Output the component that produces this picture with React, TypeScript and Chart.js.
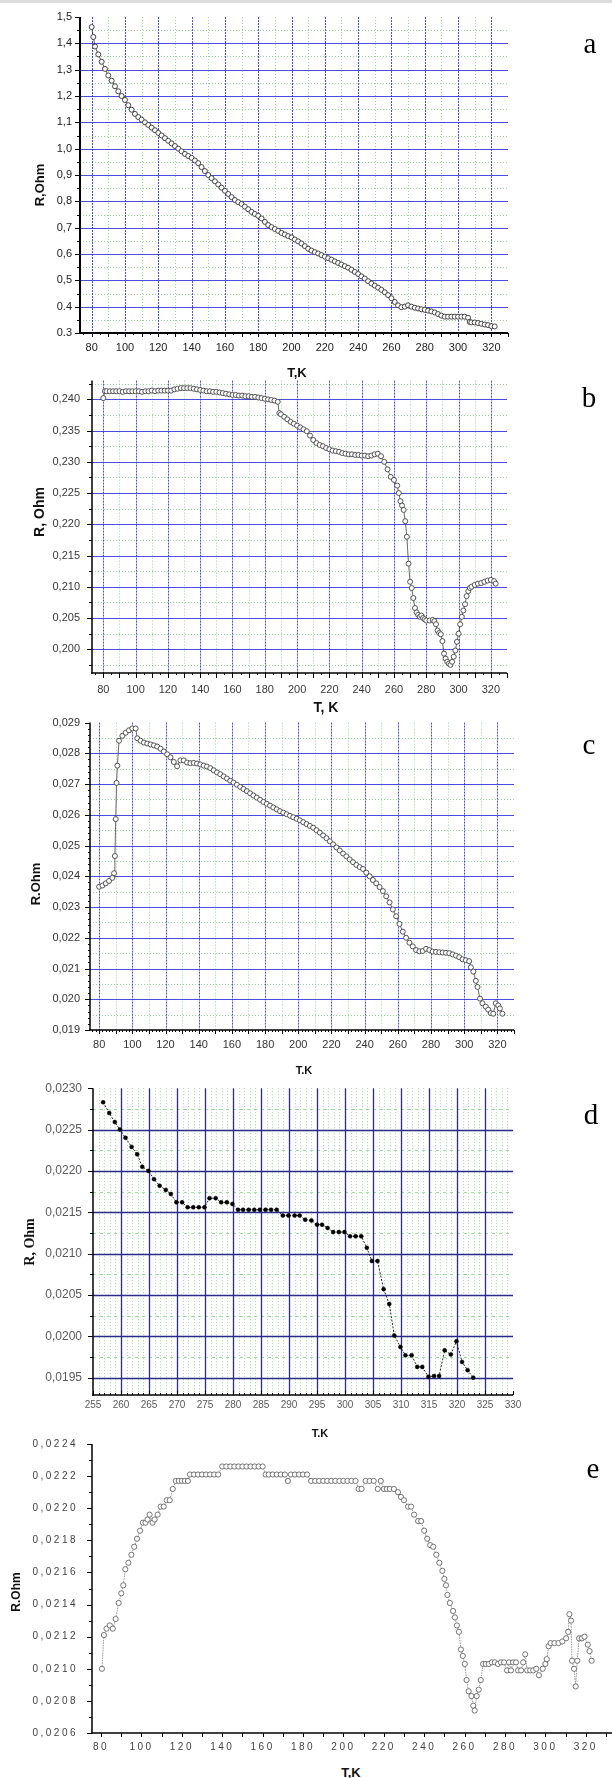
import React, { useEffect, useRef } from "react";
import { Chart, registerables } from "chart.js";
Chart.register(...registerables);

// ---------------- DATA ----------------
// Panel a
const TEMP_A = [
  80, 81, 82, 84, 86, 88, 90, 92, 94, 96,
  98, 100, 102, 104, 106, 108, 110, 112, 114, 116,
  118, 120, 122, 124, 126, 128, 130, 132, 134, 136,
  138, 140, 142, 144, 146, 148, 150, 152, 154, 156,
  158, 160, 162, 164, 166, 168, 170, 172, 174, 176,
  178, 180, 182, 184, 186, 188, 190, 192, 194, 196,
  198, 200, 202, 204, 206, 208, 210, 212, 214, 216,
  218, 220, 222, 224, 226, 228, 230, 232, 234, 236,
  238, 240, 242, 244, 246, 248, 250, 252, 254, 256,
  258, 260, 262, 264, 266, 268, 270, 272, 274, 276,
  278, 280, 282, 284, 286, 288, 290, 292, 294, 296,
  298, 300, 302, 304, 306, 307, 308, 310, 312, 314,
  316, 318, 320, 322,
];
const R_A = [
  1.462, 1.424, 1.388, 1.358, 1.330, 1.303, 1.278, 1.258, 1.237, 1.218,
  1.200, 1.185, 1.165, 1.148, 1.132, 1.120, 1.110, 1.100, 1.090, 1.080,
  1.070, 1.060, 1.050, 1.040, 1.030, 1.020, 1.010, 1.000, 0.990, 0.980,
  0.972, 0.965, 0.955, 0.945, 0.930, 0.915, 0.900, 0.888, 0.876, 0.864,
  0.852, 0.840, 0.828, 0.816, 0.805, 0.797, 0.790, 0.780, 0.770, 0.760,
  0.752, 0.745, 0.735, 0.722, 0.710, 0.702, 0.695, 0.688, 0.680, 0.674,
  0.668, 0.663, 0.655, 0.648, 0.640, 0.630, 0.620, 0.613, 0.607, 0.602,
  0.596, 0.590, 0.584, 0.578, 0.572, 0.566, 0.560, 0.554, 0.548, 0.540,
  0.532, 0.524, 0.515, 0.507, 0.497, 0.488, 0.480, 0.472, 0.464, 0.455,
  0.444, 0.432, 0.418, 0.405, 0.398, 0.400, 0.405, 0.400, 0.396, 0.393,
  0.390, 0.388, 0.385, 0.382, 0.378, 0.372, 0.366, 0.362, 0.362, 0.362,
  0.362, 0.362, 0.362, 0.362, 0.358, 0.342, 0.340, 0.340, 0.338, 0.335,
  0.332, 0.330, 0.326, 0.325,
];

// Panel b
const TEMP_B = [
  80, 81, 82, 84, 86, 88, 90, 92, 94, 96,
  98, 100, 102, 104, 106, 108, 110, 112, 114, 116,
  118, 120, 122, 124, 126, 128, 130, 132, 134, 136,
  138, 140, 142, 144, 146, 148, 150, 152, 154, 156,
  158, 160, 162, 164, 166, 168, 170, 172, 174, 176,
  178, 180, 182, 184, 186, 188, 189, 190, 192, 194,
  196, 198, 200, 202, 204, 206, 208, 210, 212, 214,
  216, 218, 220, 222, 224, 226, 228, 230, 232, 234,
  236, 238, 240, 242, 244, 246, 248, 250, 252, 254,
  256, 258, 260, 262, 263, 264, 265, 266, 267, 268,
  269, 270, 271, 272, 273, 274, 275, 276, 277, 278,
  279, 280, 282, 284, 285, 286, 287, 288, 289, 290,
  291, 292, 293, 294, 295, 296, 297, 298, 299, 300,
  301, 302, 303, 304, 305, 306, 307, 308, 310, 312,
  314, 316, 318, 320, 322, 323,
];
const R_B = [
  0.2402, 0.2413, 0.2413, 0.2413, 0.2413, 0.2413, 0.2413, 0.2412, 0.2413, 0.2413,
  0.2413, 0.2413, 0.2413, 0.2412, 0.2413, 0.2413, 0.2414, 0.2413, 0.2414, 0.2414,
  0.2414, 0.2414, 0.2414, 0.2416, 0.2417, 0.2418, 0.2418, 0.2418, 0.2418, 0.2417,
  0.2416, 0.2415, 0.2414, 0.2413, 0.2413, 0.2412, 0.2412, 0.2411, 0.2410, 0.2409,
  0.2408, 0.2407, 0.2407, 0.2406, 0.2406, 0.2405, 0.2405, 0.2404, 0.2404, 0.2403,
  0.2402, 0.2401, 0.2400, 0.2399, 0.2398, 0.2396, 0.2378, 0.2376, 0.2372, 0.2368,
  0.2364, 0.2361, 0.2358, 0.2355, 0.2352, 0.2349, 0.2342, 0.2335, 0.2330, 0.2327,
  0.2325, 0.2322, 0.2320, 0.2318, 0.2317, 0.2316, 0.2314, 0.2313, 0.2312, 0.2312,
  0.2311, 0.2311, 0.2310, 0.2310, 0.2309, 0.2310, 0.2312, 0.2313, 0.2309, 0.2300,
  0.2288, 0.2276, 0.2271, 0.2262, 0.2250, 0.2237, 0.2230, 0.2223, 0.2205, 0.2180,
  0.2137, 0.2108, 0.2098, 0.2082, 0.2066, 0.2059, 0.2055, 0.2052, 0.2054, 0.2050,
  0.2048, 0.2046, 0.2046, 0.2047, 0.2045, 0.2040, 0.2030, 0.2026, 0.2024, 0.2013,
  0.1993, 0.1985, 0.1980, 0.1977, 0.1975, 0.1980, 0.1988, 0.1998, 0.2012, 0.2025,
  0.2040, 0.2052, 0.2062, 0.2072, 0.2085, 0.2093, 0.2098, 0.2100, 0.2103, 0.2105,
  0.2106, 0.2108, 0.2110, 0.2111, 0.2109, 0.2105,
];

// Panel c
const TEMP_C = [
  80, 82, 84, 86, 88, 89, 89.5, 90, 90.5, 91,
  92, 94, 96, 98, 100, 102, 103, 105, 107, 109,
  111, 113, 115, 117, 119, 121, 123, 125, 127, 129,
  131, 133, 135, 137, 139, 141, 143, 145, 147, 149,
  151, 153, 155, 157, 159, 161, 163, 165, 167, 169,
  171, 173, 175, 177, 179, 181, 183, 185, 187, 189,
  191, 193, 195, 197, 199, 201, 203, 205, 207, 209,
  211, 213, 215, 217, 219, 221, 223, 225, 227, 229,
  231, 233, 235, 237, 239, 241, 243, 245, 247, 249,
  251, 253, 255, 257, 259, 261, 263, 265, 267, 269,
  271, 273, 275, 277, 279, 281, 283, 285, 287, 289,
  291, 293, 295, 297, 299, 301, 303, 304, 305.5, 307,
  308, 309.5, 311, 313, 314.5, 316, 317.5, 319, 320.5, 321.5,
  323,
];
const R_C = [
  0.02366, 0.02370, 0.02377, 0.02385, 0.02395, 0.02410, 0.02466, 0.02586, 0.02704, 0.02760,
  0.02841, 0.02857, 0.02867, 0.02875, 0.02881, 0.02881, 0.02849, 0.02841, 0.02835, 0.02832,
  0.02829, 0.02826, 0.02822, 0.02815, 0.02806, 0.02797, 0.02787, 0.02772, 0.02758, 0.02777,
  0.02777, 0.02770, 0.02768, 0.02769, 0.02767, 0.02764, 0.02760, 0.02757, 0.02752, 0.02745,
  0.02738, 0.02732, 0.02725, 0.02718, 0.02711, 0.02705, 0.02698, 0.02691, 0.02684, 0.02677,
  0.02670, 0.02663, 0.02656, 0.02649, 0.02642, 0.02636, 0.02630, 0.02624, 0.02618, 0.02612,
  0.02607, 0.02602, 0.02597, 0.02592, 0.02587, 0.02582, 0.02576, 0.02570, 0.02564, 0.02558,
  0.02550, 0.02542, 0.02533, 0.02524, 0.02514, 0.02504, 0.02494, 0.02484, 0.02474, 0.02465,
  0.02455, 0.02446, 0.02437, 0.02430, 0.02424, 0.02412, 0.02400, 0.02388, 0.02377, 0.02365,
  0.02352, 0.02335, 0.02315, 0.02292, 0.02270, 0.02245, 0.02220, 0.02200, 0.02184, 0.02172,
  0.02160, 0.02156, 0.02157, 0.02164, 0.02160, 0.02155, 0.02154, 0.02153, 0.02152, 0.02151,
  0.02150, 0.02146, 0.02142, 0.02137, 0.02130, 0.02127, 0.02124, 0.02104, 0.02090, 0.02060,
  0.02040, 0.02002, 0.01987, 0.01976, 0.01966, 0.01955, 0.01953, 0.01987, 0.01980, 0.01970,
  0.01953,
];

// Panel d
const TEMP_D = [
  256.8, 257.9, 258.9, 259.8, 260.8, 261.9, 262.9, 263.8, 264.9, 265.9,
  266.9, 268, 268.9, 269.9, 270.9, 271.9, 272.9, 273.9, 274.9, 275.8,
  276.9, 277.9, 278.9, 279.9, 280.9, 281.8, 282.8, 283.8, 284.8, 285.8,
  286.8, 287.8, 288.9, 289.9, 291, 291.9, 292.9, 294, 295, 295.9,
  296.9, 297.9, 298.9, 299.9, 300.9, 301.9, 302.9, 303.9, 304.8, 305.8,
  306.9, 307.9, 308.8, 309.9, 310.8, 311.9, 312.9, 313.8, 314.9, 315.9,
  316.8, 317.8, 318.9, 319.9, 320.9, 321.9, 322.9,
];
const R_D = [
  0.02283, 0.02270, 0.02259, 0.02250, 0.02240, 0.02229, 0.02220, 0.02205, 0.02200, 0.02190,
  0.02182, 0.02177, 0.02172, 0.02162, 0.02162, 0.02156, 0.02156, 0.02156, 0.02156, 0.02167,
  0.02167, 0.02162, 0.02162, 0.02160, 0.02153, 0.02153, 0.02153, 0.02153, 0.02153, 0.02153,
  0.02153, 0.02153, 0.02146, 0.02146, 0.02146, 0.02146, 0.02141, 0.02140, 0.02135, 0.02135,
  0.02131, 0.02126, 0.02126, 0.02126, 0.02121, 0.02121, 0.02121, 0.02107, 0.02091, 0.02091,
  0.02057, 0.02039, 0.02001, 0.01987, 0.01977, 0.01977, 0.01963, 0.01963, 0.01951, 0.01952,
  0.01952, 0.01983, 0.01978, 0.01994, 0.01969, 0.01959, 0.01950,
];

// Panel e
const TEMP_E = [
  80.4, 81.4, 82.7, 84.3, 85.8, 87.2, 88.7, 90, 91, 92,
  93.5, 95, 96.4, 97.8, 99.3, 100.7, 102, 103, 104, 105.5,
  106.5, 108, 109.5, 111, 112.5, 114, 115.5, 117, 118.5, 120,
  121.5, 123, 124, 126, 128, 130, 132, 134, 136, 138,
  140, 142, 144, 146, 148, 150, 152, 154, 156, 158,
  160, 161.5, 163, 165, 167, 169, 171, 172.5, 174, 176,
  178, 180, 182, 184, 186, 188, 190, 192, 194, 196,
  198, 200, 202, 204, 206, 207.5, 209, 211, 213, 215,
  217, 218.5, 220, 221.5, 223, 225, 227, 228.5, 230, 232,
  233.5, 235, 237, 238.5, 240, 241.5, 243, 244.5, 246, 247.5,
  249, 250, 250.8, 251.5, 252.7, 254.3, 255.2, 256.2, 257.2, 258.2,
  259.1, 260.1, 261, 262, 263.4, 264.3, 265, 266, 267, 268,
  269.2, 270.5, 272, 273.5, 275, 276.5, 278, 279.5, 281, 282,
  283, 284, 285.5, 286.5, 288, 289, 290, 291, 292.5, 294,
  295.5, 296.8, 298.7, 300, 300.7, 301.6, 302.6, 304.5, 306.5, 308.4,
  310.3, 311.3, 311.9, 312.7, 313.2, 314.2, 315, 315.8, 316.7, 318.1,
  319.4, 321, 321.9, 322.9,
];
const R_E = [
  0.02100, 0.02121, 0.02125, 0.02127, 0.02125, 0.02131, 0.02141, 0.02147, 0.02152, 0.02162,
  0.02166, 0.02171, 0.02176, 0.02181, 0.02186, 0.02191, 0.02191, 0.02193, 0.02196, 0.02191,
  0.02193, 0.02196, 0.02201, 0.02201, 0.02205, 0.02205, 0.02212, 0.02217, 0.02217, 0.02217,
  0.02217, 0.02217, 0.02221, 0.02221, 0.02221, 0.02221, 0.02221, 0.02221, 0.02221, 0.02221,
  0.02226, 0.02226, 0.02226, 0.02226, 0.02226, 0.02226, 0.02226, 0.02226, 0.02226, 0.02226,
  0.02226, 0.02221, 0.02221, 0.02221, 0.02221, 0.02221, 0.02221, 0.02217, 0.02221, 0.02221,
  0.02221, 0.02221, 0.02221, 0.02217, 0.02217, 0.02217, 0.02217, 0.02217, 0.02217, 0.02217,
  0.02217, 0.02217, 0.02217, 0.02217, 0.02217, 0.02212, 0.02212, 0.02217, 0.02217, 0.02217,
  0.02212, 0.02217, 0.02212, 0.02212, 0.02212, 0.02212, 0.02210, 0.02207, 0.02205, 0.02201,
  0.02201, 0.02196, 0.02192, 0.02192, 0.02186, 0.02181, 0.02177, 0.02176, 0.02171, 0.02166,
  0.02161, 0.02156, 0.02152, 0.02146, 0.02141, 0.02136, 0.02132, 0.02127, 0.02123, 0.02112,
  0.02108, 0.02103, 0.02093, 0.02086, 0.02083, 0.02077, 0.02074, 0.02083, 0.02087, 0.02093,
  0.02103, 0.02103, 0.02103, 0.02104, 0.02104, 0.02103, 0.02104, 0.02104, 0.02099, 0.02104,
  0.02099, 0.02104, 0.02104, 0.02099, 0.02099, 0.02104, 0.02109, 0.02099, 0.02099, 0.02099,
  0.02100, 0.02096, 0.02100, 0.02103, 0.02106, 0.02114, 0.02116, 0.02116, 0.02116, 0.02117,
  0.02119, 0.02123, 0.02134, 0.02130, 0.02105, 0.02100, 0.02089, 0.02105, 0.02119, 0.02119,
  0.02120, 0.02115, 0.02111, 0.02105,
];

// Tick values and labels
const X_TICKS_T = [80, 100, 120, 140, 160, 180, 200, 220, 240, 260, 280, 300, 320];
const X_LABELS_T = ["80", "100", "120", "140", "160", "180", "200", "220", "240", "260", "280", "300", "320"];
const X_TICKS_D = [255, 260, 265, 270, 275, 280, 285, 290, 295, 300, 305, 310, 315, 320, 325, 330];
const X_LABELS_D = ["255", "260", "265", "270", "275", "280", "285", "290", "295", "300", "305", "310", "315", "320", "325", "330"];

const Y_TICKS_A = [1.5, 1.4, 1.3, 1.2, 1.1, 1.0, 0.9, 0.8, 0.7, 0.6, 0.5, 0.4, 0.3];
const Y_LABELS_A = ["1,5", "1,4", "1,3", "1,2", "1,1", "1,0", "0,9", "0,8", "0,7", "0,6", "0,5", "0.4", "0.3"];
const Y_TICKS_B = [0.24, 0.235, 0.23, 0.225, 0.22, 0.215, 0.21, 0.205, 0.2];
const Y_LABELS_B = ["0,240", "0,235", "0,230", "0,225", "0,220", "0,215", "0,210", "0,205", "0,200"];
const Y_TICKS_C = [0.029, 0.028, 0.027, 0.026, 0.025, 0.024, 0.023, 0.022, 0.021, 0.02, 0.019];
const Y_LABELS_C = ["0,029", "0,028", "0,027", "0,026", "0,025", "0,024", "0,023", "0,022", "0,021", "0,020", "0,019"];
const Y_TICKS_D = [0.023, 0.0225, 0.022, 0.0215, 0.021, 0.0205, 0.02, 0.0195];
const Y_LABELS_D = ["0,0230", "0,0225", "0,0220", "0,0215", "0,0210", "0,0205", "0,0200", "0,0195"];
const Y_TICKS_E = [0.0224, 0.0222, 0.022, 0.0218, 0.0216, 0.0214, 0.0212, 0.021, 0.0208, 0.0206];
const Y_LABELS_E = ["0,0224", "0,0222", "0,0220", "0,0218", "0,0216", "0,0214", "0,0212", "0,0210", "0,0208", "0,0206"];

// ---------------- STYLE / LAYOUT ----------------
const SANS = "'Liberation Sans', Arial, Helvetica, sans-serif";
const SERIF = "'Liberation Serif', 'Times New Roman', serif";

function seq(a: number, b: number, step: number): number[] {
  const out: number[] = [];
  const n = Math.round((b - a) / step);
  for (let i = 0; i <= n; i++) out.push(Math.round((a + i * step) * 1e7) / 1e7);
  return out;
}

const BLUE = "rgba(45,45,215,0.85)";
const GREEN = "rgba(120,195,120,0.75)";

const stdGrid = (majorY: number[], minorY: number[]) => ({
  majorX: seq(80, 320, 20),
  minorX: seq(90, 310, 20),
  majorY,
  minorY,
  majorColor: BLUE,
  majorWidth: 1,
  majorDashX: [2, 1],
  majorDashY: [],
  minorColor: GREEN,
  minorDashX: [1, 2],
  minorDashY: [1, 2],
});

const PANELS: any[] = [
  {
    key: "a",
    canvasTop: 0, canvasH: 360,
    plot: { l: 80, r: 508, t: 17, b: 333 },
    xMin: 73, xMax: 330, yMin: 0.3, yMax: 1.5,
    xs: TEMP_A, ys: R_A,
    xTicks: X_TICKS_T, xLabels: X_LABELS_T, yTicks: Y_TICKS_A, yLabels: Y_LABELS_A,
    xFont: 11, yFont: 11, tickColor: "#222", xPad: 8, yPad: 8,
    point: { r: 2.5, border: "#333", bw: 0.9, fill: "#fff", line: "#333", lw: 0.8, dash: [] },
    grid: stdGrid(seq(0.4, 1.4, 0.1), seq(0.35, 1.45, 0.1)),
    axis: {
      width: 2, color: "#000",
      yMajor: seq(0.3, 1.5, 0.1), yMinor: seq(0.35, 1.45, 0.1), yMajLen: 5, yMinLen: 3,
      xMajor: seq(80, 330, 10), xMinor: seq(75, 325, 10), xMajLen: 4, xMinLen: 2, xDir: 1,
    },
  },
  {
    key: "b",
    canvasTop: 362, canvasH: 338,
    plot: { l: 92, r: 507, t: 375, b: 673 },
    xMin: 73, xMax: 330, yMin: 0.1962, yMax: 0.243,
    xs: TEMP_B, ys: R_B,
    xTicks: X_TICKS_T, xLabels: X_LABELS_T, yTicks: Y_TICKS_B, yLabels: Y_LABELS_B,
    xFont: 11, yFont: 11, tickColor: "#3a3a3a", xPad: 10, yPad: 12,
    point: { r: 2.5, border: "#444", bw: 0.9, fill: "#fff", line: "#444", lw: 0.8, dash: [] },
    grid: stdGrid(seq(0.2, 0.24, 0.005), seq(0.1975, 0.2425, 0.005)),
    axis: {
      width: 1.5, color: "#000",
      yMajor: seq(0.2, 0.24, 0.005), yMinor: seq(0.1975, 0.2425, 0.005), yMajLen: 5, yMinLen: 3,
      xMajor: seq(80, 330, 10), xMinor: seq(75, 325, 10), xMajLen: 5, xMinLen: 2, xDir: 1,
    },
  },
  {
    key: "c",
    canvasTop: 706, canvasH: 352,
    plot: { l: 90, r: 514, t: 719, b: 1030 },
    xMin: 74.5, xMax: 330, yMin: 0.019, yMax: 0.029,
    xs: TEMP_C, ys: R_C,
    xTicks: X_TICKS_T, xLabels: X_LABELS_T, yTicks: Y_TICKS_C, yLabels: Y_LABELS_C,
    xFont: 11, yFont: 11, tickColor: "#333", xPad: 8, yPad: 10,
    point: { r: 2.5, border: "#444", bw: 0.9, fill: "#fff", line: "#444", lw: 0.8, dash: [] },
    grid: stdGrid(seq(0.02, 0.028, 0.001), seq(0.0195, 0.0285, 0.001)),
    axis: {
      width: 1.5, color: "#000",
      yMajor: seq(0.019, 0.029, 0.001), yMinor: seq(0.019, 0.029, 0.0002), yMajLen: 5, yMinLen: 2,
      xMajor: seq(80, 330, 10), xMinor: seq(76, 330, 2), xMajLen: 4, xMinLen: 2, xDir: 1,
    },
  },
  {
    key: "d",
    canvasTop: 1070, canvasH: 350,
    plot: { l: 93, r: 513, t: 1084, b: 1395 },
    xMin: 255, xMax: 330, yMin: 0.01929, yMax: 0.023,
    xs: TEMP_D, ys: R_D,
    xTicks: X_TICKS_D, xLabels: X_LABELS_D, yTicks: Y_TICKS_D, yLabels: Y_LABELS_D,
    xFont: 10, yFont: 12, tickColor: "#5a5a5a", xPad: 4, yPad: 11,
    point: { r: 2, border: "#000", bw: 0.5, fill: "#000", line: "#111", lw: 0.9, dash: [2, 1.5] },
    grid: {
      majorX: seq(260, 325, 5),
      minorX: seq(256, 329, 1).filter((v) => v % 5 !== 0),
      majorY: seq(0.0195, 0.0225, 0.0005),
      minorY: seq(0.01975, 0.02275, 0.0005),
      majorColor: "#2b2b8a",
      majorWidth: 1.3,
      majorDashX: [],
      majorDashY: [],
      minorColor: "rgba(120,200,120,0.7)",
      minorDashX: [1, 2],
      minorDashY: [3, 4],
    },
    axis: {
      width: 1.5, color: "#000",
      yMajor: seq(0.0195, 0.023, 0.0005), yMinor: seq(0.01975, 0.02275, 0.0005), yMajLen: 5, yMinLen: 3,
      xMajor: seq(255, 330, 5), xMinor: seq(255, 330, 1), xMajLen: 4, xMinLen: 2, xDir: -1,
    },
  },
  {
    key: "e",
    canvasTop: 1424, canvasH: 340,
    plot: { l: 92, r: 612, t: 1438, b: 1733 },
    xMin: 75.5, xMax: 333, yMin: 0.0206, yMax: 0.0224,
    xs: TEMP_E, ys: R_E,
    xTicks: X_TICKS_T, xLabels: X_LABELS_T, yTicks: Y_TICKS_E, yLabels: Y_LABELS_E,
    xFont: 10, yFont: 10, tickColor: "#444", xPad: 8, yPad: 14, spacing: "2.5px",
    point: { r: 2.6, border: "#555", bw: 0.8, fill: "#fff", line: "#666", lw: 0.7, dash: [1.5, 1] },
    grid: null,
    axis: {
      width: 1.5, color: "#000",
      yMajor: seq(0.0206, 0.0224, 0.0002), yMinor: seq(0.0207, 0.0223, 0.0002), yMajLen: 5, yMinLen: 3,
      xMajor: seq(80, 330, 10), xMinor: [], xMajLen: 4, xMinLen: 2, xDir: 1,
    },
  },
];

const TITLES = [
  { text: "T,K", x: 297, y: 372, size: 13, rot: false, serif: false },
  { text: "R,Ohm", x: 39, y: 185, size: 13, rot: true, serif: false },
  { text: "T, K", x: 326, y: 707, size: 14, rot: false, serif: false },
  { text: "R, Ohm", x: 39, y: 512, size: 14, rot: true, serif: false },
  { text: "T.K", x: 304, y: 1070, size: 11, rot: false, serif: false },
  { text: "R.Ohm", x: 35, y: 884, size: 13, rot: true, serif: false },
  { text: "T.K", x: 320, y: 1433, size: 11, rot: false, serif: false },
  { text: "R, Ohm", x: 30, y: 1242, size: 14, rot: true, serif: true },
  { text: "T,K", x: 351, y: 1772, size: 13, rot: false, serif: false },
  { text: "R.Ohm", x: 16, y: 1592, size: 12, rot: true, serif: false },
];

const LETTERS = [
  { text: "a", x: 590, y: 43 },
  { text: "b", x: 589, y: 397 },
  { text: "c", x: 589, y: 744 },
  { text: "d", x: 591, y: 1114 },
  { text: "e", x: 593, y: 1468 },
];

// ---------------- DRAWING ----------------
function makeDecor(p: any) {
  return {
    id: "decor_" + p.key,
    beforeDatasetsDraw(chart: any) {
      const { ctx, chartArea: ca, scales } = chart;
      const px = (v: number) => scales.x.getPixelForValue(v);
      const py = (v: number) => scales.y.getPixelForValue(v);
      const line = (x0: number, y0: number, x1: number, y1: number, color: string, w: number, dash?: number[]) => {
        ctx.beginPath();
        ctx.strokeStyle = color;
        ctx.lineWidth = w;
        ctx.setLineDash(dash || []);
        ctx.moveTo(x0, y0);
        ctx.lineTo(x1, y1);
        ctx.stroke();
      };
      const snap = (v: number) => Math.round(v) + 0.5;
      ctx.save();
      const g = p.grid;
      if (g) {
        g.minorX.forEach((v: number) => { const x = snap(px(v)); line(x, ca.top, x, ca.bottom, g.minorColor, 1, g.minorDashX); });
        g.minorY.forEach((v: number) => { const y = snap(py(v)); line(ca.left, y, ca.right, y, g.minorColor, 1, g.minorDashY); });
        g.majorX.forEach((v: number) => { const x = snap(px(v)); line(x, ca.top, x, ca.bottom, g.majorColor, g.majorWidth, g.majorDashX); });
        g.majorY.forEach((v: number) => { const y = snap(py(v)); line(ca.left, y, ca.right, y, g.majorColor, g.majorWidth, g.majorDashY); });
      }
      const a = p.axis;
      const L = ca.left, B = ca.bottom;
      a.yMinor.forEach((v: number) => { const y = snap(py(v)); line(L, y, L - a.yMinLen, y, a.color, 1); });
      a.yMajor.forEach((v: number) => { const y = snap(py(v)); line(L, y, L - a.yMajLen, y, a.color, 1); });
      a.xMinor.forEach((v: number) => { const x = snap(px(v)); line(x, B, x, B + a.xDir * a.xMinLen, a.color, 1); });
      a.xMajor.forEach((v: number) => { const x = snap(px(v)); line(x, B, x, B + a.xDir * a.xMajLen, a.color, 1); });
      line(L, ca.top, L, B + a.width / 2, a.color, a.width);
      line(L - a.width / 2, B, ca.right, B, a.color, a.width);
      ctx.restore();
    },
  };
}

function Panel({ p }: { p: any }) {
  const ref = useRef<HTMLCanvasElement | null>(null);
  useEffect(() => {
    if (!ref.current) return;
    const plugins: any[] = [makeDecor(p)];
    if (p.spacing) {
      plugins.push({
        id: "spacing_" + p.key,
        beforeDraw(chart: any) { chart.ctx.letterSpacing = p.spacing; },
        afterDraw(chart: any) { chart.ctx.letterSpacing = "0px"; },
      });
    }
    const data = p.xs.map((x: number, i: number) => ({ x, y: p.ys[i] }));
    const chart = new Chart(ref.current, {
      type: "scatter",
      data: {
        datasets: [
          {
            data,
            showLine: true,
            borderColor: p.point.line,
            borderWidth: p.point.lw,
            borderDash: p.point.dash,
            pointRadius: p.point.r,
            pointBorderColor: p.point.border,
            pointBorderWidth: p.point.bw,
            pointBackgroundColor: p.point.fill,
            pointStyle: "circle",
            tension: 0,
          } as any,
        ],
      },
      options: {
        animation: false,
        responsive: false,
        maintainAspectRatio: false,
        events: [],
        layout: {
          autoPadding: false,
          padding: { top: p.plot.t - p.canvasTop, right: 612 - p.plot.r, bottom: 0, left: 0 },
        } as any,
        plugins: { legend: { display: false }, tooltip: { enabled: false } },
        scales: {
          x: {
            type: "linear",
            min: p.xMin,
            max: p.xMax,
            afterBuildTicks: (s: any) => { s.ticks = p.xTicks.map((v: number) => ({ value: v })); },
            afterFit: (s: any) => { s.height = p.canvasTop + p.canvasH - p.plot.b; },
            ticks: {
              autoSkip: false,
              maxRotation: 0,
              minRotation: 0,
              padding: p.xPad,
              color: p.tickColor,
              font: { family: SANS, size: p.xFont },
              callback: (_v: any, i: number) => p.xLabels[i],
            },
            grid: { display: false, drawTicks: false },
            border: { display: false },
          },
          y: {
            type: "linear",
            min: p.yMin,
            max: p.yMax,
            afterBuildTicks: (s: any) => { s.ticks = p.yTicks.map((v: number) => ({ value: v })); },
            afterFit: (s: any) => { s.width = p.plot.l; },
            ticks: {
              autoSkip: false,
              padding: p.yPad,
              color: p.tickColor,
              font: { family: SANS, size: p.yFont },
              callback: (_v: any, i: number) => p.yLabels[i],
            },
            grid: { display: false, drawTicks: false },
            border: { display: false },
          },
        },
      } as any,
      plugins,
    });
    return () => chart.destroy();
  }, []);
  return (
    <canvas
      ref={ref}
      width={612}
      height={p.canvasH}
      style={{ position: "absolute", left: 0, top: p.canvasTop, width: 612, height: p.canvasH }}
    />
  );
}

export default function App() {
  return (
    <div style={{ position: "absolute", left: 0, top: 0, width: 612, height: 1778, background: "#fff", overflow: "hidden" }}>
      <div style={{ position: "absolute", left: 0, top: 0, width: 612, height: 3, background: "#dcdcdc" }} />
      {PANELS.map((p) => (
        <Panel key={p.key} p={p} />
      ))}
      {TITLES.map((t, i) => (
        <div
          key={"t" + i}
          style={{
            position: "absolute",
            left: t.x,
            top: t.y,
            transform: t.rot ? "translate(-50%,-50%) rotate(-90deg)" : "translate(-50%,-50%)",
            fontFamily: t.serif ? SERIF : SANS,
            fontWeight: "bold",
            fontSize: t.size,
            lineHeight: 1,
            whiteSpace: "nowrap",
            color: "#111",
          }}
        >
          {t.text}
        </div>
      ))}
      {LETTERS.map((l) => (
        <div
          key={l.text}
          style={{
            position: "absolute",
            left: l.x,
            top: l.y,
            transform: "translate(-50%,-50%)",
            fontFamily: SERIF,
            fontSize: 29,
            lineHeight: 1,
            color: "#000",
          }}
        >
          {l.text}
        </div>
      ))}
    </div>
  );
}
